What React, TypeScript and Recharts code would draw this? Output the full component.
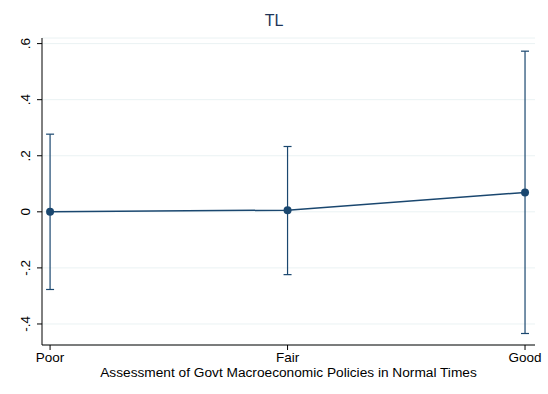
import { LineChart, Line, XAxis, YAxis, CartesianGrid, ErrorBar, Label } from 'recharts';

const categories = ['Poor', 'Fair', 'Good'];
const estimates = [0.0, 0.006, 0.069];
const lowerCI = [-0.277, -0.224, -0.434];
const upperCI = [0.277, 0.233, 0.573];
const yTicks = [-0.4, -0.2, 0, 0.2, 0.4, 0.6];

const NAVY = '#1a476f';
const FONT = '"Liberation Sans", Arial, sans-serif';

const chartData = categories.map((name, i) => ({
  x: i,
  name,
  value: estimates[i],
  err: [estimates[i] - lowerCI[i], upperCI[i] - estimates[i]],
}));

const fmtY = (v: number) => {
  if (v === 0) return '0';
  const s = v.toFixed(1);
  return s.replace('0.', '.');
};

function YTick({ x, y, payload }: any) {
  return (
    <text
      x={x - 5}
      y={y}
      transform={`rotate(-90, ${x - 5}, ${y})`}
      textAnchor="middle"
      fontSize={13.5}
      fontFamily={FONT}
      fill="#000"
    >
      {fmtY(payload.value)}
    </text>
  );
}

export default function App() {
  return (
    <div style={{ position: 'absolute', left: 0, top: 0, width: 548, height: 394, background: '#fff' }}>
      <div
        style={{
          position: 'absolute',
          top: 12,
          left: 0,
          width: 548,
          textAlign: 'center',
          fontFamily: FONT,
          fontSize: 16,
          color: '#1e3557',
        }}
      >
        TL
      </div>
      <LineChart
        width={548}
        height={394}
        data={chartData}
        margin={{ top: 38, right: 13, bottom: 0, left: 0 }}
      >
        <CartesianGrid horizontal vertical={false} stroke="#eaf2f3" strokeWidth={1} />
        <XAxis
          dataKey="x"
          type="number"
          domain={[-0.034, 2.042]}
          ticks={[0, 1, 2]}
          tickFormatter={(v: number) => categories[v]}
          height={49}
          stroke="#000"
          tickSize={5}
          tick={{ fontSize: 13.5, fontFamily: FONT, fill: '#000' }}
          allowDataOverflow
        >
          <Label
            value="Assessment of Govt Macroeconomic Policies in Normal Times"
            position="insideBottom"
            offset={17}
            style={{ fontSize: 13.7, fontFamily: FONT, fill: '#000' }}
          />
        </XAxis>
        <YAxis
          type="number"
          domain={[-0.475, 0.62]}
          ticks={yTicks}
          width={42}
          stroke="#000"
          tickSize={5}
          tick={<YTick />}
          allowDataOverflow
        />
        <Line
          dataKey="value"
          stroke={NAVY}
          strokeWidth={1.5}
          dot={{ r: 4, fill: NAVY, stroke: NAVY, strokeWidth: 0 }}
          activeDot={false}
          isAnimationActive={false}
        >
          <ErrorBar dataKey="err" width={4} stroke={NAVY} strokeWidth={1.2} direction="y" />
        </Line>
      </LineChart>
    </div>
  );
}
